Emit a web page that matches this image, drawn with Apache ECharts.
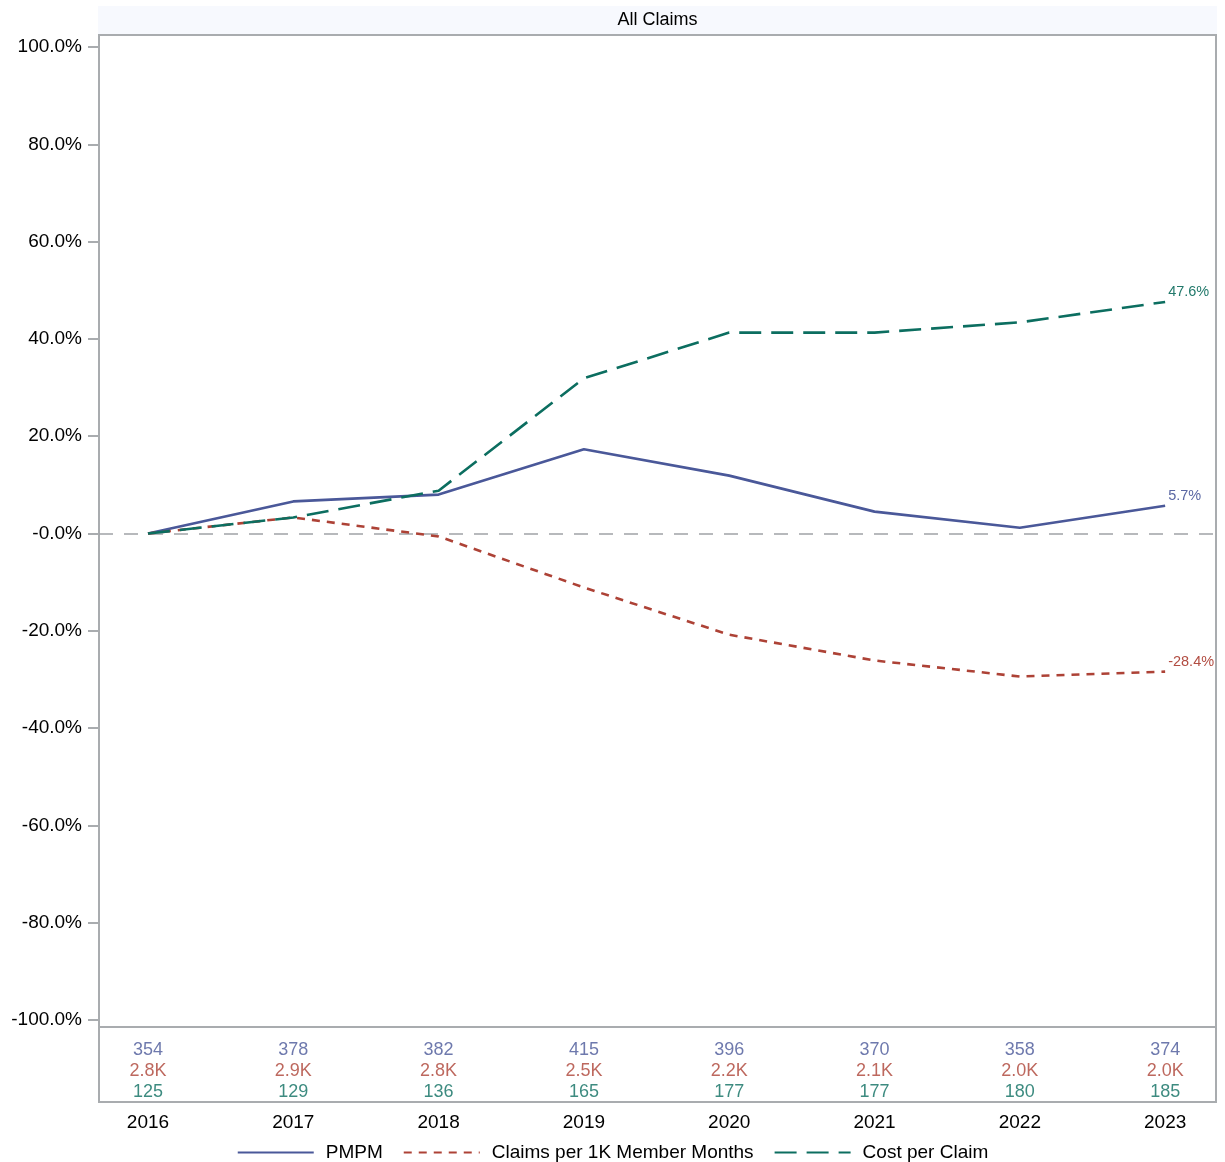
<!DOCTYPE html>
<html>
<head>
<meta charset="utf-8">
<title>All Claims</title>
<script src="https://cdn.jsdelivr.net/npm/echarts@6/dist/echarts.min.js"></script>
<style>
  html, body { margin: 0; padding: 0; background: #fff; }
  #chart { width: 1225px; height: 1162px; }
</style>
</head>
<body>
<div id="chart"></div>
<script>
// Years on the x axis
const years = ['2016', '2017', '2018', '2019', '2020', '2021', '2022', '2023'];

// Cumulative % change since 2016
const pmpmPct = [0, 6.6, 8.0, 17.3, 11.9, 4.5, 1.2, 5.7];
const claimsPct = [0, 3.3, -0.6, -11.1, -20.8, -26.1, -29.4, -28.4];
const costPct = [0, 3.3, 8.8, 31.9, 41.3, 41.3, 43.4, 47.6];

// Yearly values shown in the table under the plot
const pmpmValues = [354, 378, 382, 415, 396, 370, 358, 374];
const claimsPer1K = [2.8, 2.9, 2.8, 2.5, 2.2, 2.1, 2.0, 2.0]; // thousands
const costPerClaim = [125, 129, 136, 165, 177, 177, 180, 185];

// Y tick labels
const yTicks = [-100, -80, -60, -40, -20, 0, 20, 40, 60, 80, 100];

const seriesNames = ['PMPM', 'Claims per 1K Member Months', 'Cost per Claim'];
const colors = ['#4a5899', '#ad4236', '#0c6e60'];
const labelColors = ['#5a67a3', '#b24d42', '#22796b'];
const frameColor = '#a9acaf';
const font = 'Liberation Sans, Arial, sans-serif';

const chart = echarts.init(document.getElementById('chart'), null, { renderer: 'canvas' });

// x range padded so the first/last year sit inside the frame
const xMin = -0.337, xMax = 7.35;

const toPoints = arr => arr.map((v, i) => [i, v]);
const fmtPct = v => v.toFixed(1) + '%';

function lineSeries(idx, data, dash) {
  return {
    name: seriesNames[idx],
    type: 'line',
    xAxisIndex: 0,
    yAxisIndex: 0,
    data: toPoints(data),
    symbol: 'none',
    lineStyle: { color: colors[idx], width: 2.6, type: dash, cap: 'butt' },
    itemStyle: { color: colors[idx] },
    endLabel: {
      show: true,
      formatter: p => fmtPct(p.value[1]),
      color: labelColors[idx],
      fontFamily: font,
      fontSize: 14.5,
      offset: [0, -10],
      distance: 3
    },
    z: 3
  };
}

function tableSeries(idx, row, values, fmt) {
  return {
    name: 'table-' + idx,
    type: 'scatter',
    xAxisIndex: 1,
    yAxisIndex: 1,
    data: values.map((v, i) => [i, row, v]),
    symbolSize: 0,
    silent: true,
    label: {
      show: true,
      position: 'inside',
      formatter: p => fmt(p.value[2]),
      color: colors[idx],
      fontFamily: font,
      fontSize: 18
    }
  };
}

const option = {
  backgroundColor: '#ffffff',
  animation: false,
  textStyle: { fontFamily: font },
  graphic: [
    {
      type: 'rect',
      shape: { x: 98, y: 6, width: 1119, height: 29 },
      style: { fill: '#f7f9fe' },
      z: -1
    },
    {
      type: 'text',
      x: 657.5,
      y: 20.5,
      style: {
        text: 'All Claims',
        fill: '#000',
        font: '18px ' + font,
        textAlign: 'center',
        textVerticalAlign: 'middle'
      }
    }
  ],
  grid: [
    { left: 99, right: 9, top: 35, height: 992, show: true, borderColor: frameColor, borderWidth: 2, containLabel: false },
    { left: 99, right: 9, top: 1027, height: 75, show: true, borderColor: frameColor, borderWidth: 2, containLabel: false }
  ],
  xAxis: [
    {
      gridIndex: 0, type: 'value', min: xMin, max: xMax,
      axisLine: { show: false }, axisTick: { show: false },
      axisLabel: { show: false }, splitLine: { show: false }
    },
    {
      gridIndex: 1, type: 'value', min: xMin, max: xMax,
      axisLine: { show: false }, axisTick: { show: false },
      splitLine: { show: false },
      axisLabel: {
        show: true,
        customValues: years.map((y, i) => i),
        formatter: v => years[v],
        color: '#000',
        fontSize: 19,
        margin: 11
      }
    }
  ],
  yAxis: [
    {
      gridIndex: 0, type: 'value', min: -101.44, max: 102.47,
      axisLine: { show: true, onZero: false, lineStyle: { color: frameColor, width: 2 } },
      axisTick: { show: true, customValues: yTicks, length: 11, lineStyle: { color: frameColor, width: 2 } },
      axisLabel: {
        show: true,
        customValues: yTicks,
        formatter: v => (v === 0 ? '-0.0%' : v.toFixed(1) + '%'),
        color: '#000',
        fontSize: 19,
        margin: 17
      },
      splitLine: { show: false }
    },
    {
      gridIndex: 1, type: 'value', min: -0.0952, max: 3.476, inverse: true,
      axisLine: { show: false, onZero: false }, axisTick: { show: false },
      axisLabel: { show: false }, splitLine: { show: false }
    }
  ],
  legend: {
    data: seriesNames,
    left: 'center',
    top: 1143,
    padding: 0,
    itemWidth: 76,
    itemHeight: 14,
    itemGap: 20,
    itemStyle: { opacity: 0 },
    textStyle: { color: '#000', fontSize: 19, fontFamily: font, padding: [0, 0, 0, 7] }
  },
  series: [
    Object.assign(lineSeries(0, pmpmPct, 'solid'), {
      markLine: {
        silent: true,
        symbol: 'none',
        label: { show: false },
        lineStyle: { color: '#a0a3a6', width: 1.5, type: [14, 11] },
        data: [{ yAxis: 0 }],
        z: 1
      }
    }),
    lineSeries(1, claimsPct, [8, 7]),
    lineSeries(2, costPct, [22, 10]),
    tableSeries(0, 1, pmpmValues, v => String(v)),
    tableSeries(1, 2, claimsPer1K, v => v.toFixed(1) + 'K'),
    tableSeries(2, 3, costPerClaim, v => String(v))
  ]
};

chart.setOption(option);
</script>
</body>
</html>
